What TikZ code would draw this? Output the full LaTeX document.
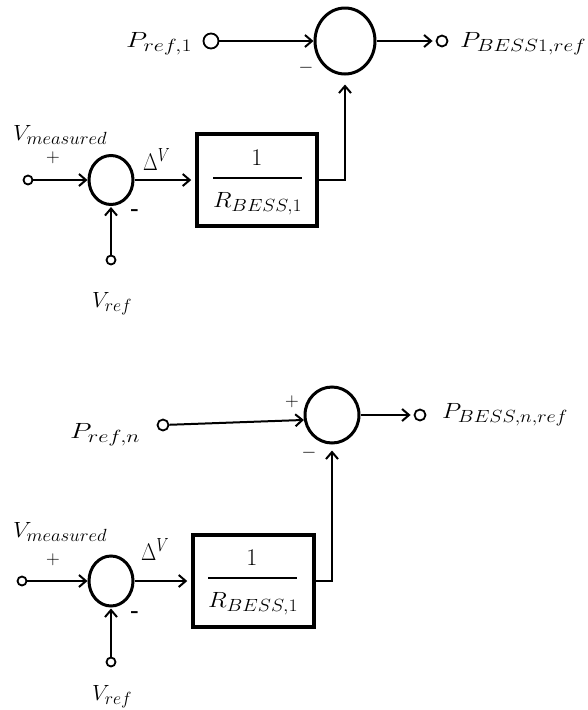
\documentclass[tikz,border=0pt]{standalone}
\usepackage{fix-cm}
\usepackage{graphicx}
\usetikzlibrary{arrows.meta,shapes.geometric}
\DeclareMathSizes{22}{22}{17.6}{14}
\DeclareMathSizes{24}{24}{19}{15}
\newcommand\sw[2]{\resizebox{#1}{\height}{$#2$}}
\tikzset{
  lbl/.style={inner sep=0pt, font=\fontsize{22}{26}\selectfont},
  sgn/.style={inner sep=0pt, font=\fontsize{19}{22}\selectfont},
  bsgn/.style={inner sep=0pt, font=\fontsize{22}{24}\selectfont\bfseries},
  bigsum/.style={draw, ellipse, line width=3pt, inner sep=0pt},
  smallsum/.style={draw, ellipse, line width=3pt, inner sep=0pt, minimum width=44pt, minimum height=49pt},
  term/.style={draw, circle, line width=1.8pt, inner sep=0pt, fill=white},
  blk/.style={draw, rectangle, line width=3.5pt, inner sep=0pt, minimum width=120pt, minimum height=92pt},
  arr/.style={-{Straight Barb[length=7pt,width=12pt]}, line width=2pt},
  bar/.style={line width=1.1pt},
}
\begin{document}
\begin{tikzpicture}[x=1pt,y=-1pt]
\useasboundingbox (0,0) rectangle (588,710);

% ---------------- top diagram ----------------
\node[bigsum, minimum width=60pt, minimum height=66pt] (s1) at (345,41) {};
\node[term, minimum size=15pt] (t1) at (211,41) {};
\node[term, minimum size=11pt] (o1) at (442,41) {};
\node[lbl, anchor=base west] (lp1) at (126,47) {\sw{66pt}{P_{ref,1}}};
\node[lbl, anchor=base west] (lo1) at (460,47) {\sw{126pt}{P_{BESS1,ref}}};
\node[sgn] (m1) at (306,68) {$-$};

\node[blk] (b1) at (257,180) {};
\node[lbl, anchor=base, font=\fontsize{24}{26}\selectfont] (n1) at (257,165) {$1$};
\coordinate (f1a) at (213,178);
\coordinate (f1b) at (302,178);
\draw[bar] (f1a) -- (f1b);
\node[lbl, anchor=base west] (d1) at (213,207) {\sw{89pt}{R_{BESS,1}}};

\node[smallsum] (ss1) at (111,180) {};
\node[term, minimum size=9pt] (i1) at (28,180) {};
\node[term, minimum size=9pt] (v1) at (111,260) {};
\node[lbl, anchor=base west] (lvm1) at (13,140) {\sw{94pt}{V_{measured}}};
\node[sgn] (pl1) at (53,158) {$+$};
\node[lbl, anchor=base west, font=\fontsize{24}{26}\selectfont] (ldv1) at (143,170) {\sw{27pt}{\Delta^{V}}};
\node[bsgn] (mn1) at (135,213) {-};
\node[lbl, anchor=base west] (lvr1) at (92,307) {\sw{40pt}{V_{ref}}};

\draw[arr] (t1) -- (s1);
\draw[arr, shorten >=3pt] (s1.east) -- (o1.west);
\draw[arr] (i1) -- (ss1);
\draw[arr, shorten >=1pt] (v1) -- (ss1);
\draw[arr, shorten >=4pt] (ss1.east) -- (ss1.east -| b1.west);
\draw[arr, shorten >=9pt] (b1.east) -| (s1.south);

% ---------------- bottom diagram ----------------
\node[bigsum, minimum width=54pt, minimum height=56pt] (s2) at (332,415) {};
\node[term, minimum size=11pt] (t2) at (163,425) {};
\node[term, minimum size=11pt] (o2) at (420,415) {};
\node[lbl, anchor=base west] (lp2) at (70,438) {\sw{70pt}{P_{ref,n}}};
\node[lbl, anchor=base west] (lo2) at (442,418) {\sw{126pt}{P_{BESS,n,ref}}};
\node[sgn] (pl2s) at (292,402) {$+$};
\node[sgn] (m2) at (309,453) {$-$};

\node[blk, minimum width=121pt] (b2) at (253.5,581) {};
\node[lbl, anchor=base, font=\fontsize{24}{26}\selectfont] (n2) at (252,565) {$1$};
\coordinate (f2a) at (208,578);
\coordinate (f2b) at (297,578);
\draw[bar] (f2a) -- (f2b);
\node[lbl, anchor=base west] (d2) at (208,607) {\sw{90pt}{R_{BESS,1}}};

\node[smallsum, minimum height=50pt] (ss2) at (111,581) {};
\node[term, minimum size=9pt] (i2) at (22,581) {};
\node[term, minimum size=9pt] (v2) at (111,662) {};
\node[lbl, anchor=base west] (lvm2) at (13,537) {\sw{94pt}{V_{measured}}};
\node[sgn] (pl2) at (53,560) {$+$};
\node[lbl, anchor=base west, font=\fontsize{24}{26}\selectfont] (ldv2) at (141,560) {\sw{28pt}{\Delta^{V}}};
\node[bsgn] (mn2) at (135,615) {-};
\node[lbl, anchor=base west] (lvr2) at (92,700) {\sw{40pt}{V_{ref}}};

\draw[arr] (t2) -- (s2.190);
\draw[arr, shorten >=3pt] (s2.east) -- (o2.west);
\draw[arr] (i2) -- (ss2);
\draw[arr, shorten >=1pt] (v2) -- (ss2);
\draw[arr, shorten >=4pt] (ss2.east) -- (ss2.east -| b2.west);
\draw[arr, shorten >=6pt] (b2.east) -| (s2.south);
\end{tikzpicture}
\end{document}
